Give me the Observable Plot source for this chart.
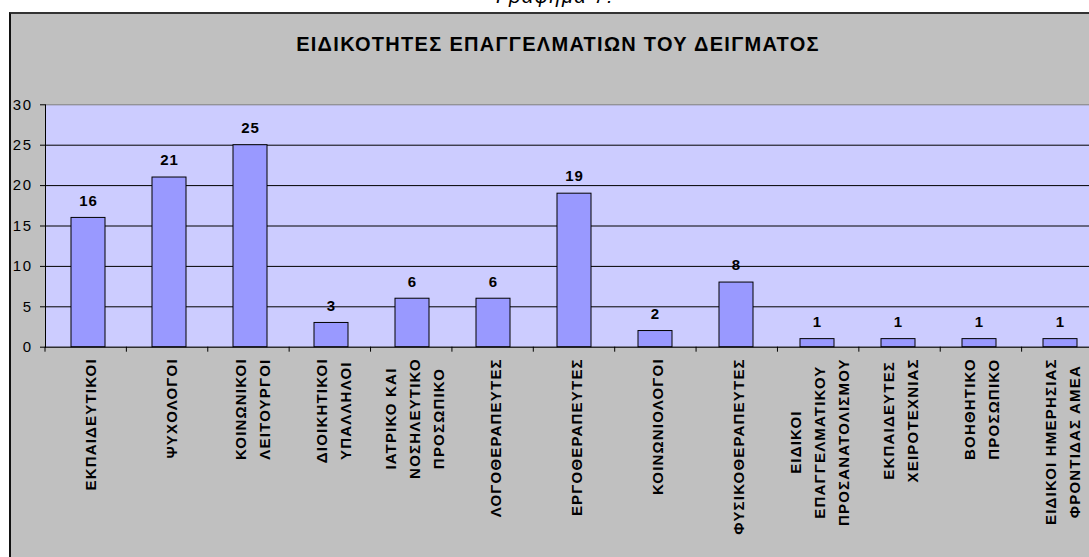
<!DOCTYPE html>
<html><head><meta charset="utf-8">
<script src="https://cdn.jsdelivr.net/npm/d3@7"></script>
<script src="https://cdn.jsdelivr.net/npm/@observablehq/plot@0.6"></script>
<style>
html,body{margin:0;padding:0;background:#fff;overflow:hidden;width:1089px;height:557px;}
body{position:relative;font-family:"Liberation Sans",Arial,sans-serif;}
#caption{position:absolute;left:0;top:-14px;width:1110px;text-align:center;font-style:italic;font-size:20px;line-height:20px;letter-spacing:1.5px;}
#frame{position:absolute;left:9px;top:12px;width:1120px;height:600px;background:#c0c0c0;border-left:2px solid #111;border-top:2px solid #333;}
#title{height:50px;box-sizing:border-box;padding-top:21px;padding-right:5px;width:1099px;text-align:center;font-weight:bold;font-size:20px;line-height:18px;letter-spacing:1.3px;}
#chart svg{display:block;}
g.xlabels text{letter-spacing:1.2px;}
g.values text{letter-spacing:1px;}
g[aria-label="y-axis tick label"] text{letter-spacing:1.5px;}
</style>
</head><body>
<div id="caption">Γράφημα 7:</div>
<div id="frame">
  <div id="title">ΕΙΔΙΚΟΤΗΤΕΣ ΕΠΑΓΓΕΛΜΑΤΙΩΝ ΤΟΥ ΔΕΙΓΜΑΤΟΣ</div>
  <div id="chart"></div>
</div>
<script>
const categories = [
  "ΕΚΠΑΙΔΕΥΤΙΚΟΙ",
  "ΨΥΧΟΛΟΓΟΙ",
  "ΚΟΙΝΩΝΙΚΟΙ\nΛΕΙΤΟΥΡΓΟΙ",
  "ΔΙΟΙΚΗΤΙΚΟΙ\nΥΠΑΛΛΗΛΟΙ",
  "ΙΑΤΡΙΚΟ ΚΑΙ\nΝΟΣΗΛΕΥΤΙΚΟ\nΠΡΟΣΩΠΙΚΟ",
  "ΛΟΓΟΘΕΡΑΠΕΥΤΕΣ",
  "ΕΡΓΟΘΕΡΑΠΕΥΤΕΣ",
  "ΚΟΙΝΩΝΙΟΛΟΓΟΙ",
  "ΦΥΣΙΚΟΘΕΡΑΠΕΥΤΕΣ",
  "ΕΙΔΙΚΟΙ\nΕΠΑΓΓΕΛΜΑΤΙΚΟΥ\nΠΡΟΣΑΝΑΤΟΛΙΣΜΟΥ",
  "ΕΚΠΑΙΔΕΥΤΕΣ\nΧΕΙΡΟΤΕΧΝΙΑΣ",
  "ΒΟΗΘΗΤΙΚΟ\nΠΡΟΣΩΠΙΚΟ",
  "ΕΙΔΙΚΟΙ ΗΜΕΡΗΣΙΑΣ\nΦΡΟΝΤΙΔΑΣ ΑΜΕΑ"
];
const values = [16, 21, 25, 3, 6, 6, 19, 2, 8, 1, 1, 1, 1];
const yTicks = [0, 5, 10, 15, 20, 25, 30];

const data = categories.map((c, i) => ({cat: c, value: values[i]}));

const tag = (cls) => (index, scales, vals, dims, context, next) => {
  const g = next(index, scales, vals, dims, context);
  if (g) g.setAttribute("class", cls);
  return g;
};

const boundaryTicks = (index, scales, vals, dims) => {
  const {width, height, marginLeft, marginRight, marginBottom} = dims;
  const step = (width - marginLeft - marginRight) / categories.length;
  const y0 = height - marginBottom;
  const g = d3.create("svg:g").attr("stroke", "#000");
  g.selectAll("line").data(d3.range(categories.length + 1)).join("line")
    .attr("x1", i => marginLeft + i * step).attr("x2", i => marginLeft + i * step)
    .attr("y1", y0).attr("y2", y0 + 5);
  return g.node();
};

const chart = Plot.plot({
  width: 1099,
  height: 493,
  marginTop: 40.3,
  marginLeft: 34,
  marginRight: 7,
  marginBottom: 210.3,
  style: {background: "transparent", fontFamily: "'Liberation Sans', Arial, sans-serif", color: "#000", maxWidth: "none", overflow: "visible"},
  x: {type: "band", domain: categories, paddingInner: 0.58, paddingOuter: 0.29, align: 0.5, axis: null},
  y: {domain: [0, 30], axis: null},
  marks: [
    Plot.frame({fill: "#CCCCFF"}),
    Plot.gridY(yTicks.filter(t => t > 0 && t < 30), {stroke: "#000", strokeOpacity: 1}),
    Plot.frame({stroke: "#808080"}),
    Plot.frame({anchor: "left", stroke: "#000"}),
    Plot.ruleY([0], {stroke: "#000"}),
    Plot.axisY({ticks: yTicks, tickSize: 5, tickPadding: 8, fontSize: 15, label: null, stroke: "#000"}),
    Plot.barY(data, {x: "cat", y: "value", fill: "#9999FF", stroke: "#000", strokeWidth: 1}),
    Plot.text(data, {x: "cat", y: "value", text: d => String(d.value), dy: -17, fontWeight: "bold", fontSize: 15, fill: "#000", render: tag("values")}),
    Plot.text(categories, {x: d => d, frameAnchor: "bottom", dy: 11, rotate: -90, textAnchor: "middle", lineAnchor: "middle", lineHeight: 1.58, fontWeight: "bold", fontSize: 15, fill: "#000", render: tag("xlabels")}),
    boundaryTicks
  ]
});
document.getElementById("chart").appendChild(chart);

// anchor each rotated label block so its upper end sits just below the axis
document.querySelectorAll('g.xlabels text').forEach(t => {
  const w = t.getBBox().width;
  t.setAttribute("transform", (t.getAttribute("transform") || "") + ` translate(${-w / 2},0)`);
});
</script>
</body></html>
